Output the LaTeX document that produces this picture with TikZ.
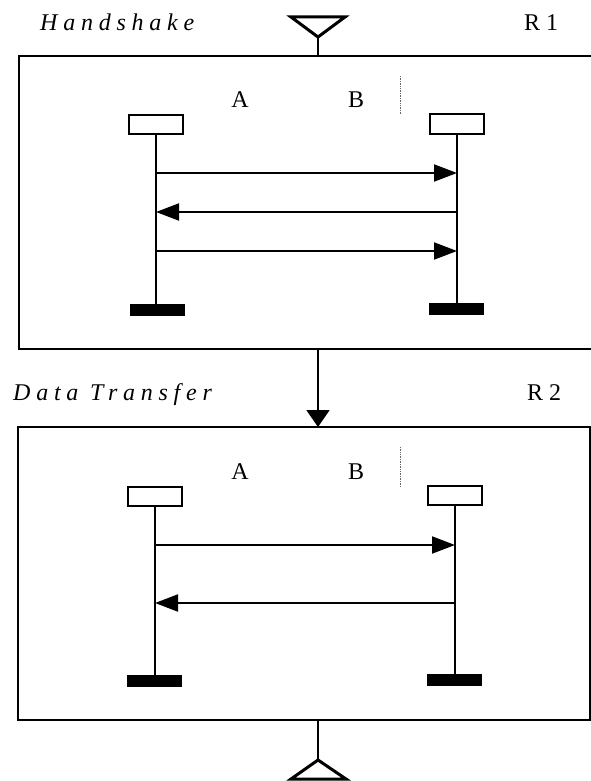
\documentclass[tikz,border=0pt]{standalone}
\usepackage{fontspec}
\setmainfont{Liberation Serif}
\usetikzlibrary{arrows.meta}
\begin{document}
\begin{tikzpicture}[x=1pt,y=-1pt,
  frame/.style={draw, line width=2.6pt, inner sep=0pt, outer sep=0pt},
  head/.style={draw, line width=2pt, minimum width=54pt, minimum height=19pt, inner sep=0pt, outer sep=0pt},
  endbar/.style={fill=black, minimum width=55pt, minimum height=12pt, inner sep=0pt, outer sep=0pt},
  life/.style={line width=2pt},
  msg/.style={line width=2pt, -{Triangle[length=23pt,width=17pt]}},
  flow/.style={line width=2pt, -{Triangle[length=17pt,width=23pt]}},
  term/.style={line width=3pt, line join=miter},
  sep/.style={line width=0.7pt, black!60, densely dotted},
  lbl/.style={font=\fontsize{24}{28}\selectfont, inner sep=0pt, anchor=base},
  stitle/.style={font=\fontsize{24}{28}\selectfont\itshape\addfontfeature{LetterSpace=24}, inner sep=0pt, anchor=base west}
]
\useasboundingbox (0,0) rectangle (591,781);
\clip (0,0) rectangle (591,781);

% ---------- start terminal ----------
\coordinate (tl) at (291,17);
\coordinate (tr) at (345,17);
\coordinate (tapex) at (318,37);
\draw[term] (tl) -- (tr) -- (tapex) -- cycle;

\node[stitle] (t1) at (40,31) {Handshake};
\node[lbl, anchor=base west] (r1) at (524,31) {R 1};

% ---------- region 1 ----------
\node[frame, minimum width=581pt, minimum height=293pt] (box1) at (309.5,202.5) {};
\draw[life] (tapex) -- (tapex |- box1.north);

\node[lbl] (a1) at (240,107) {A};
\node[lbl] (b1) at (356,107) {B};
\coordinate (s1t) at (400,76);
\coordinate (s1b) at (400,115);
\draw[sep] (s1t) -- (s1b);

\node[head] (ha1) at (156,124.5) {};
\node[head] (hb1) at (457,124) {};
\node[endbar] (ea1) at (157.5,310) {};
\node[endbar] (eb1) at (456.5,308.5) {};
\draw[life] (ha1.south) -- (ea1.north -| ha1.south);
\draw[life] (hb1.south) -- (eb1.north -| hb1.south);

\coordinate (m1a) at (ha1.south |- 0,173);
\coordinate (m1b) at (hb1.south |- 0,173);
\coordinate (m2a) at (ha1.south |- 0,212);
\coordinate (m2b) at (hb1.south |- 0,212);
\coordinate (m3a) at (ha1.south |- 0,251);
\coordinate (m3b) at (hb1.south |- 0,251);
\draw[msg] (m1a) -- (m1b);
\draw[msg] (m2b) -- (m2a);
\draw[msg] (m3a) -- (m3b);

% ---------- region 2 ----------
\node[frame, minimum width=572pt, minimum height=293pt] (box2) at (304,573.5) {};
\draw[flow] (tapex |- box1.south) -- (tapex |- box2.north);

\node[stitle] (t2) at (13,400) {Data Transfer};
\node[lbl, anchor=base west] (r2) at (527,400) {R 2};

\node[lbl] (a2) at (240,479) {A};
\node[lbl] (b2) at (356,479) {B};
\coordinate (s2t) at (400,447);
\coordinate (s2b) at (400,487);
\draw[sep] (s2t) -- (s2b);

\node[head] (ha2) at (155,496) {};
\node[head] (hb2) at (455,495) {};
\node[endbar] (ea2) at (154.5,681) {};
\node[endbar] (eb2) at (454.5,680) {};
\draw[life] (ha2.south) -- (ea2.north -| ha2.south);
\draw[life] (hb2.south) -- (eb2.north -| hb2.south);

\coordinate (n1a) at (ha2.south |- 0,545);
\coordinate (n1b) at (hb2.south |- 0,545);
\coordinate (n2a) at (ha2.south |- 0,603);
\coordinate (n2b) at (hb2.south |- 0,603);
\draw[msg] (n1a) -- (n1b);
\draw[msg] (n2b) -- (n2a);

% ---------- end terminal ----------
\coordinate (bapex) at (318,760);
\coordinate (bl) at (291,779);
\coordinate (br) at (346,779);
\draw[life] (tapex |- box2.south) -- (bapex);
\draw[term] (bapex) -- (br) -- (bl) -- cycle;
\end{tikzpicture}
\end{document}
